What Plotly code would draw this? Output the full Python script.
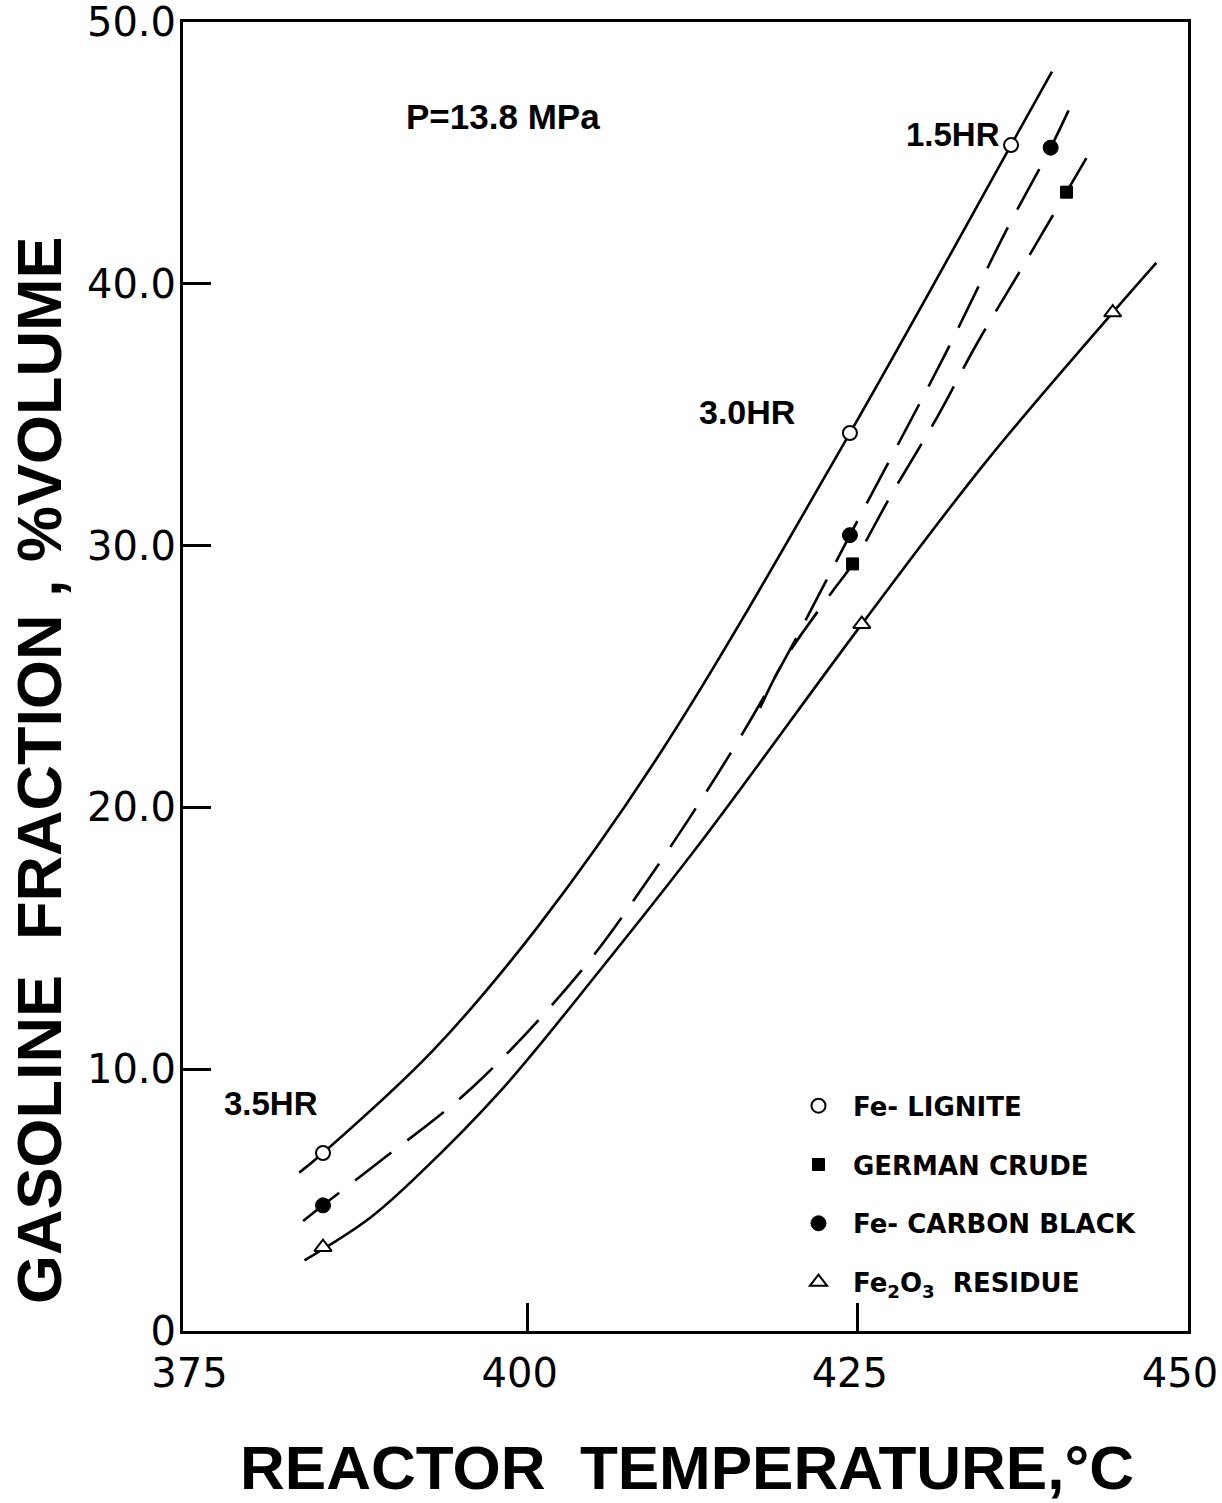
import plotly.graph_objects as go

# ---- data ----
lignite_x = [384.5, 424.4, 436.6]
lignite_y = [6.8, 34.3, 45.3]
crude_x = [424.6, 440.8]
crude_y = [29.3, 43.5]
carbon_x = [384.5, 424.4, 439.6]
carbon_y = [4.8, 30.4, 45.2]
residue_x = [384.5, 425.3, 444.3]
residue_y = [3.2, 27.0, 38.9]

# fitted curves (hand-drawn in the original)
lignite_fit_x = [382.7, 384.5, 392.8, 400.7, 410.2, 424.4, 436.6, 439.7]
lignite_fit_y = [6.05, 6.8, 10.7, 15.4, 22.2, 34.3, 45.3, 48.1]
carbon_fit_x = [383.0, 384.5, 388.6, 395.8, 403.8, 409.2, 415.4, 419.4, 424.4, 431.5, 436.3, 439.6, 441.3]
carbon_fit_y = [4.2, 4.8, 6.4, 9.3, 13.6, 17.3, 22.1, 25.6, 30.4, 37.2, 42.1, 45.2, 47.0]
crude_fit_x = [417.6, 419.4, 423.0, 424.6, 427.6, 431.0, 434.0, 437.3, 440.8, 443.0]
crude_fit_y = [23.8, 25.6, 28.2, 29.3, 32.0, 34.9, 37.7, 40.5, 43.5, 45.4]
residue_fit_x = [383.1, 388.0, 391.8, 398.0, 405.5, 413.0, 425.3, 434.7, 444.3, 447.6]
residue_fit_y = [2.7, 4.3, 6.0, 9.2, 13.8, 18.6, 27.0, 33.2, 38.9, 40.8]

x_ticks = [375, 400, 425, 450]
x_tick_marks = [400, 425]
y_ticks = [0, 10, 20, 30, 40, 50]
y_tick_text = ["0", "10.0", "20.0", "30.0", "40.0", "50.0"]
y_tick_marks = [10, 20, 30, 40]

notes = [("P=13.8 MPa", 398.1, 46.4, 35), ("1.5HR", 432.2, 45.7, 33),
         ("3.0HR", 416.6, 35.1, 34), ("3.5HR", 380.6, 8.7, 33)]

BLK = "black"
LW = 2.6
DASH = "46px,20px"

fig = go.Figure()

def curve(xs, ys, dash=None):
    line = dict(color=BLK, width=LW, shape="spline", smoothing=1.0)
    if dash:
        line["dash"] = dash
    fig.add_trace(go.Scatter(x=xs, y=ys, mode="lines", line=line,
                             showlegend=False, hoverinfo="skip"))

curve(lignite_fit_x, lignite_fit_y)
curve(carbon_fit_x, carbon_fit_y, DASH)
curve(crude_fit_x, crude_fit_y, DASH)
curve(residue_fit_x, residue_fit_y)

fig.add_trace(go.Scatter(x=lignite_x, y=lignite_y, mode="markers", name="Fe- LIGNITE",
                         legendgroup="a",
                         marker=dict(symbol="circle", size=14, color="white",
                                     line=dict(color=BLK, width=2))))
fig.add_trace(go.Scatter(x=crude_x, y=crude_y, mode="markers", name="GERMAN CRUDE",
                         legendgroup="b",
                         marker=dict(symbol="square", size=12, color=BLK,
                                     line=dict(color=BLK, width=1))))
fig.add_trace(go.Scatter(x=carbon_x, y=carbon_y, mode="markers", name="Fe- CARBON BLACK",
                         legendgroup="c",
                         marker=dict(symbol="circle", size=15, color=BLK,
                                     line=dict(color=BLK, width=1))))
fig.add_trace(go.Scatter(x=residue_x, y=residue_y, mode="markers",
                         name="Fe<sub>2</sub>O<sub>3</sub>  RESIDUE",
                         legendgroup="d",
                         marker=dict(symbol="triangle-up", size=15, color="white",
                                     line=dict(color=BLK, width=2))))

for txt, x, y, fs in notes:
    fig.add_annotation(x=x, y=y, xref="x", yref="y", text="<b>" + txt + "</b>",
                       showarrow=False,
                       font=dict(family="Liberation Sans", size=fs, color=BLK),
                       xanchor="center", yanchor="middle")

fig.add_annotation(x=-0.1433, y=0.4286, xref="paper", yref="paper",
                   text="<b>GASOLINE  FRACTION , %VOLUME</b>", textangle=-90,
                   showarrow=False, xanchor="center", yanchor="middle",
                   font=dict(family="Liberation Sans", size=63, color=BLK))
fig.add_annotation(x=0.5015, y=-0.1039, xref="paper", yref="paper",
                   text="<b>REACTOR  TEMPERATURE,°C</b>",
                   showarrow=False, xanchor="center", yanchor="middle",
                   font=dict(family="Liberation Sans", size=62, color=BLK))

fig.update_layout(
    width=1222, height=1503,
    margin=dict(l=183, r=34, t=22, b=172, autoexpand=False),
    paper_bgcolor="white", plot_bgcolor="white",
    font=dict(family="DejaVu Sans", color=BLK),
    showlegend=True,
    legend=dict(x=0.598, y=0.19, xanchor="left", yanchor="top",
                bgcolor="rgba(0,0,0,0)", borderwidth=0,
                font=dict(family="DejaVu Sans", size=26, color=BLK, weight="bold"),
                itemwidth=59, tracegroupgap=22, traceorder="grouped"),
    xaxis=dict(range=[373.9, 450.0], tickvals=x_ticks, ticks="", showgrid=False,
               zeroline=False, showline=True, linewidth=3, linecolor=BLK, mirror=True,
               automargin=False,
               tickfont=dict(family="DejaVu Sans", size=40, color=BLK),
               ticklabelstandoff=5, ticklabelshift=-8, ticklabeloverflow="allow",
               minor=dict(tickvals=x_tick_marks, ticks="inside", ticklen=28,
                          tickwidth=3, tickcolor=BLK, showgrid=False)),
    yaxis=dict(range=[0, 50], tickvals=y_ticks, ticktext=y_tick_text, ticks="",
               showgrid=False, zeroline=False, showline=True, linewidth=3,
               linecolor=BLK, mirror=True, automargin=False,
               tickfont=dict(family="DejaVu Sans", size=40, color=BLK),
               ticklabelstandoff=-4, ticklabeloverflow="allow",
               minor=dict(tickvals=y_tick_marks, ticks="inside", ticklen=28,
                          tickwidth=3, tickcolor=BLK, showgrid=False)),
)

fig.write_html("out.html")
